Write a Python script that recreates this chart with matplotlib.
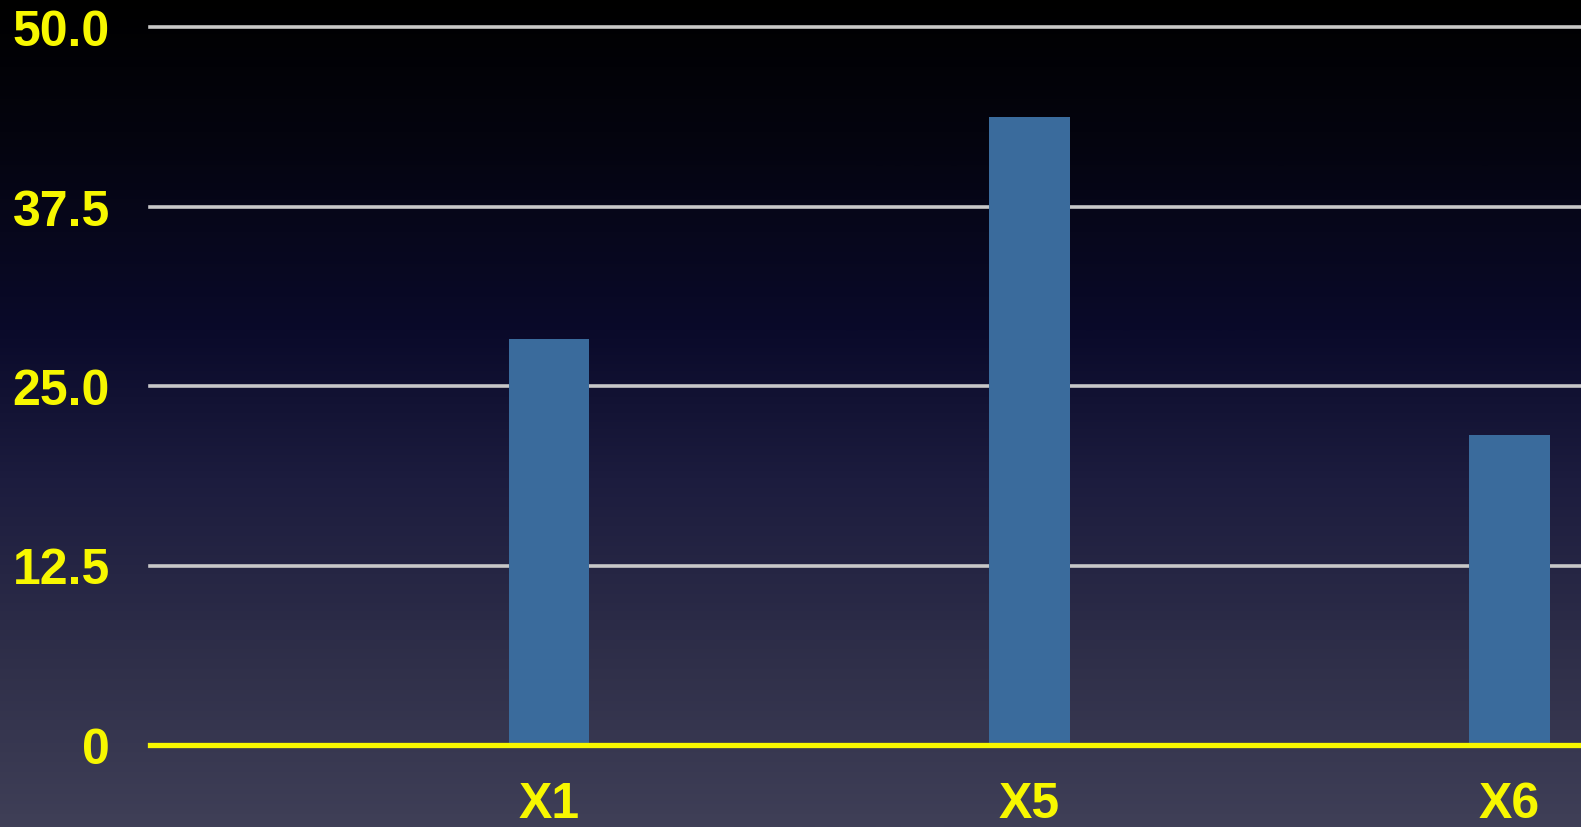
import matplotlib.pyplot as plt
import numpy as np
from matplotlib.colors import LinearSegmentedColormap

# data
categories = ["X1", "X5", "X6"]
values = [28.3, 43.7, 21.6]
yticks = [0, 12.5, 25.0, 37.5, 50.0]
ytick_labels = ["0", "12.5", "25.0", "37.5", "50.0"]

W, H = 1581, 828
YELLOW = "#f7f700"
BAR = "#3a6b9c"
GRID = "#c8c8c8"

plt.rcParams['font.family'] = ['Liberation Sans', 'DejaVu Sans']
plt.rcParams['font.weight'] = 'bold'

fig = plt.figure(figsize=(W / 100, H / 100), dpi=100)

# vertical gradient background, black at the top to slate at the bottom
bg = fig.add_axes([0, 0, 1, 1], zorder=-10)
stops = [(0.0, "#000000"), (0.16, "#04040e"), (0.40, "#0a0a2a"),
         (0.58, "#1c1c3e"), (0.81, "#30304a"), (1.0, "#3f3f57")]
cmap = LinearSegmentedColormap.from_list("bg", stops)
grad = np.linspace(0, 1, 512).reshape(-1, 1)
bg.imshow(grad, aspect="auto", cmap=cmap, extent=[0, 1, 1, 0])
bg.set_axis_off()

# plot area: 0 at y=746 px, 50 at y=28 px, left edge at x=150 px
left, y0, y50 = 150, 746, 28
ax = fig.add_axes([left / W, (H - y0) / H, 1 - left / W, (y0 - y50) / H])
ax.set_facecolor("none")

x = np.arange(len(categories))
ax.bar(x, values, width=0.167, color=BAR, zorder=2)

for t in yticks[1:]:
    ax.axhline(t, color=GRID, lw=2.6, zorder=1, clip_on=False)
ax.axhline(0, color=YELLOW, lw=3.8, zorder=3, clip_on=False)

ax.set_xlim(-0.832, 2.149)
ax.set_ylim(0, 50)
ax.set_xticks(x, categories)
ax.set_yticks(yticks, ytick_labels)
ax.tick_params(axis="y", length=0, pad=29, labelsize=36, labelcolor=YELLOW)
ax.tick_params(axis="x", length=0, pad=26, labelsize=36, labelcolor=YELLOW)
for s in ax.spines.values():
    s.set_visible(False)

fig.savefig("out.png", dpi=100)
